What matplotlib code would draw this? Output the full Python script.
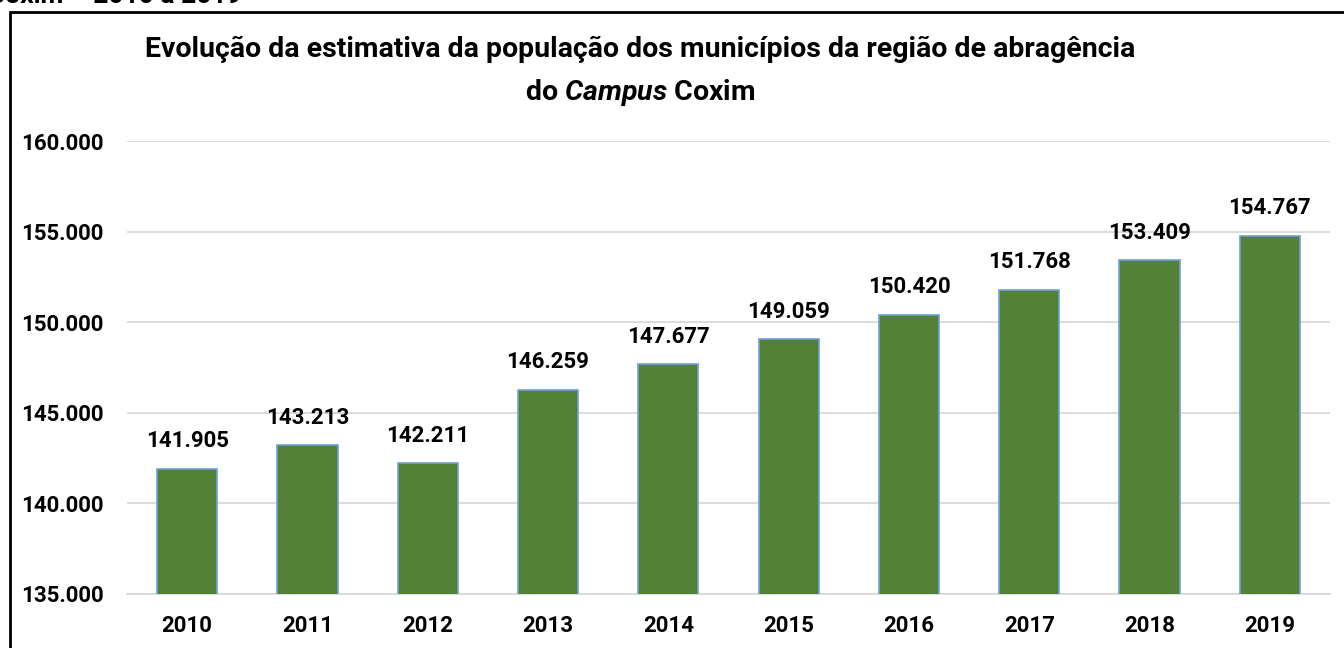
import matplotlib
matplotlib.use('Agg')
import matplotlib.pyplot as plt
from matplotlib.patches import Rectangle
from matplotlib.ticker import FuncFormatter

anos = ['2010', '2011', '2012', '2013', '2014', '2015', '2016', '2017', '2018', '2019']
populacao = [141905, 143213, 142211, 146259, 147677, 149059, 150420, 151768, 153409, 154767]
y_ticks = [135000, 140000, 145000, 150000, 155000, 160000]

plt.rcParams['font.family'] = ['Roboto', 'DejaVu Sans']
plt.rcParams['font.weight'] = 'bold'
plt.rcParams['mathtext.fontset'] = 'custom'
plt.rcParams['mathtext.it'] = 'Roboto:bold:italic'
plt.rcParams['mathtext.rm'] = 'Roboto:bold'


def milhar(v, pos=None):
    return f'{int(v):,}'.replace(',', '.')


fig = plt.figure(figsize=(13.44, 6.48), dpi=100)
ax = fig.add_axes([127 / 1344, 1 - 594 / 648, (1330 - 127) / 1344, (594 - 141) / 648])

x = range(len(anos))
ax.bar(x, populacao, width=0.5, color='#538135', edgecolor='#6FA0D8', linewidth=1.2, zorder=3)
for xi, v in zip(x, populacao):
    ax.annotate(milhar(v), (xi, v), xytext=(0, 12), textcoords='offset points',
                ha='center', va='bottom', fontsize=16, fontweight='bold')

ax.set_xlim(-0.5, len(anos) - 0.5)
ax.set_ylim(135000, 160000)
ax.set_yticks(y_ticks)
ax.yaxis.set_major_formatter(FuncFormatter(milhar))
ax.set_xticks(list(x))
ax.set_xticklabels(anos)
ax.grid(axis='y', color='#D9D9D9', linewidth=1.3, zorder=0)
for s in ['top', 'right', 'left']:
    ax.spines[s].set_visible(False)
ax.spines['bottom'].set_color('#D9D9D9')
ax.spines['bottom'].set_linewidth(1.3)
ax.tick_params(length=0, labelsize=16)
ax.tick_params(axis='y', pad=17)
ax.tick_params(axis='x', pad=15)

fig.text(0.476, 1 - 49 / 648, 'Evolução da estimativa da população dos municípios da região de abragência',
         ha='center', va='center', fontsize=20.5, fontweight='bold')
fig.text(0.476, 1 - 93 / 648, 'do $\\mathit{Campus}$ Coxim',
         ha='center', va='center', fontsize=20.5, fontweight='bold')

# legenda cortada no topo
fig.text(-12 / 1344, 1 - 3 / 648, 'Coxim – 2010 a 2019', ha='left', va='baseline',
         fontsize=19, fontweight='bold')

fig.patches.append(Rectangle((10 / 1344, -0.1), 1.2, 1.1 - 12 / 648, transform=fig.transFigure,
                             fill=False, edgecolor='black', linewidth=2))

fig.savefig('out.png', dpi=100)
